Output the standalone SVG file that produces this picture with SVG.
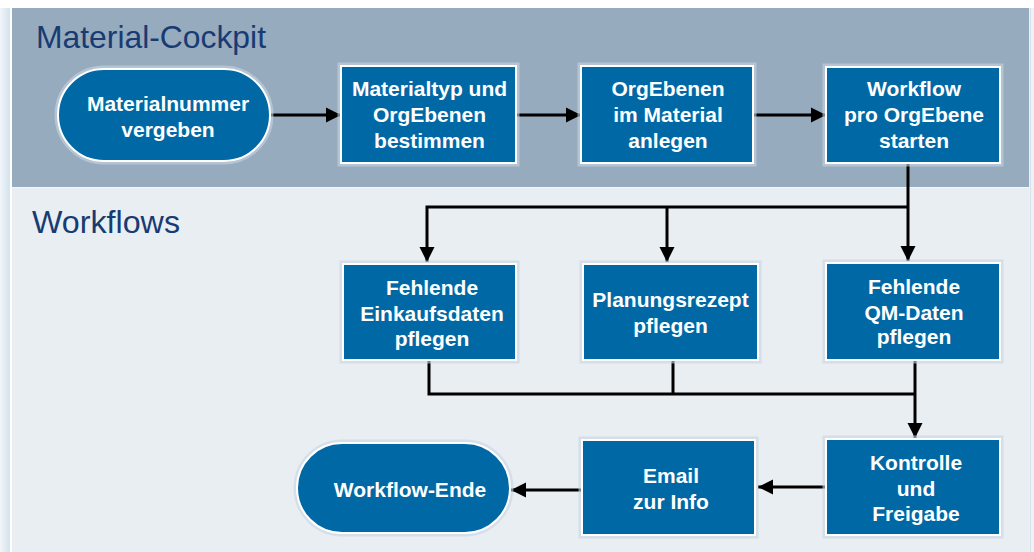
<svg xmlns="http://www.w3.org/2000/svg" width="1034" height="552" viewBox="0 0 1034 552">
<defs>
<linearGradient id="lshadow" x1="0" x2="1" y1="0" y2="0">
<stop offset="0" stop-color="#F2F6FA"/>
<stop offset="1" stop-color="#D3E2EE"/>
</linearGradient>
<marker id="ah" markerUnits="userSpaceOnUse" markerWidth="18" markerHeight="18" viewBox="0 0 18 18" refX="15" refY="9" orient="auto">
<path d="M0,1.5 L15,9 L0,16.5 Z" fill="#000"/>
</marker>
<style>
.box{fill:#0069A5;stroke:#FFFFFF;stroke-width:2}
.glow{fill:none;stroke:#C9D6E2;stroke-width:3;opacity:0.6}
.t{font-family:"Liberation Sans",Arial,sans-serif;font-weight:bold;font-size:21px;fill:#FFFFFF;text-anchor:middle}
.h{font-family:"Liberation Sans",Arial,sans-serif;font-size:32px;fill:#173B72}
.c{fill:none;stroke:#000;stroke-width:3}
</style>
</defs>
<rect x="0" y="0" width="1034" height="552" fill="#FFFFFF"/>
<rect x="0" y="8" width="10" height="544" fill="url(#lshadow)"/>
<rect x="12" y="8" width="1017" height="180" fill="#97ABBE"/>
<rect x="12" y="188" width="1017" height="364" fill="#E9EEF2"/>
<line x1="12" y1="187.5" x2="1029" y2="187.5" stroke="#F4F7F9" stroke-width="1"/>
<rect x="1029" y="8" width="5" height="544" fill="#EEF2F6"/>
<line x1="1030.5" y1="8" x2="1030.5" y2="552" stroke="#D8E2EA" stroke-width="1"/>
<text class="h" x="36" y="48" textLength="230" lengthAdjust="spacingAndGlyphs">Material-Cockpit</text>
<text class="h" x="32" y="233" textLength="148" lengthAdjust="spacingAndGlyphs">Workflows</text>
<g id="connectors">
<line class="c" x1="271" y1="115" x2="341" y2="115" marker-end="url(#ah)"/>
<line class="c" x1="516" y1="115" x2="581" y2="115" marker-end="url(#ah)"/>
<line class="c" x1="753" y1="115" x2="826" y2="115" marker-end="url(#ah)"/>
<line class="c" x1="908" y1="163" x2="908" y2="261" marker-end="url(#ah)"/>
<polyline class="c" points="908,207 427,207 427,262" marker-end="url(#ah)"/>
<line class="c" x1="667" y1="207" x2="667" y2="262" marker-end="url(#ah)"/>
<polyline class="c" points="429,360 429,394 915,394"/>
<line class="c" x1="673" y1="360" x2="673" y2="394"/>
<line class="c" x1="915" y1="360" x2="915" y2="438" marker-end="url(#ah)"/>
<line class="c" x1="826" y1="487" x2="758" y2="487" marker-end="url(#ah)"/>
<line class="c" x1="582" y1="490" x2="511" y2="490" marker-end="url(#ah)"/>
</g>
<g id="n1">
<rect class="glow" x="56" y="67" width="216" height="96" rx="48"/>
<rect class="box" x="58" y="69" width="212" height="92" rx="46"/>
<text class="t" x="168" y="111">Materialnummer</text>
<text class="t" x="168" y="137">vergeben</text>
</g>
<g id="n2">
<rect class="glow" x="339" y="64" width="179" height="101"/>
<rect class="box" x="341" y="66" width="175" height="97"/>
<text class="t" x="429.5" y="96">Materialtyp und</text>
<text class="t" x="429.5" y="122">OrgEbenen</text>
<text class="t" x="429.5" y="148">bestimmen</text>
</g>
<g id="n3">
<rect class="glow" x="579" y="64" width="176" height="101"/>
<rect class="box" x="581" y="66" width="172" height="97"/>
<text class="t" x="668" y="96">OrgEbenen</text>
<text class="t" x="668" y="122">im Material</text>
<text class="t" x="668" y="148">anlegen</text>
</g>
<g id="n4">
<rect class="glow" x="824" y="65" width="178" height="100"/>
<rect class="box" x="826" y="67" width="174" height="96"/>
<text class="t" x="914" y="96">Workflow</text>
<text class="t" x="914" y="122">pro OrgEbene</text>
<text class="t" x="914" y="148">starten</text>
</g>
<g id="n5">
<rect class="glow" x="341" y="262" width="177" height="100"/>
<rect class="box" x="343" y="264" width="173" height="96"/>
<text class="t" x="432" y="295">Fehlende</text>
<text class="t" x="432" y="321">Einkaufsdaten</text>
<text class="t" x="432" y="346">pflegen</text>
</g>
<g id="n6">
<rect class="glow" x="581" y="262" width="179" height="100"/>
<rect class="box" x="583" y="264" width="175" height="96"/>
<text class="t" x="670.5" y="307">Planungsrezept</text>
<text class="t" x="670.5" y="333">pflegen</text>
</g>
<g id="n7">
<rect class="glow" x="824" y="261" width="178" height="101"/>
<rect class="box" x="826" y="263" width="174" height="97"/>
<text class="t" x="914" y="294">Fehlende</text>
<text class="t" x="914" y="320">QM-Daten</text>
<text class="t" x="914" y="344">pflegen</text>
</g>
<g id="n8">
<rect class="glow" x="824" y="437" width="178" height="100"/>
<rect class="box" x="826" y="439" width="174" height="96"/>
<text class="t" x="916" y="470">Kontrolle</text>
<text class="t" x="916" y="496">und</text>
<text class="t" x="916" y="521">Freigabe</text>
</g>
<g id="n9">
<rect class="glow" x="580" y="438" width="177" height="99"/>
<rect class="box" x="582" y="440" width="173" height="95"/>
<text class="t" x="671" y="483">Email</text>
<text class="t" x="671" y="509">zur Info</text>
</g>
<g id="n10">
<rect class="glow" x="295" y="441" width="217" height="94" rx="47"/>
<rect class="box" x="297" y="443" width="213" height="90" rx="45"/>
<text class="t" x="410" y="497">Workflow-Ende</text>
</g>
</svg>
